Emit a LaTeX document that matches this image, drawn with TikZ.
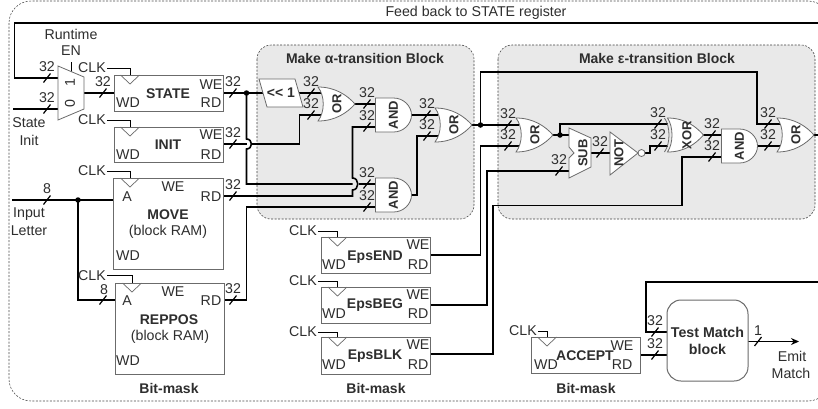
\documentclass[tikz,border=0pt]{standalone}
\usepackage{fontspec}
\setmainfont{Liberation Sans}
\usetikzlibrary{arrows.meta}
\pgfdeclarelayer{bg}
\pgfdeclarelayer{wirelayer}
\pgfsetlayers{bg,wirelayer,main}
\definecolor{ink}{gray}{0.18}
\definecolor{boxline}{gray}{0.42}
\definecolor{blockfill}{gray}{0.915}
\tikzset{
  lab/.style={text=ink,inner sep=0pt,font=\fontsize{14.2}{14.2}\selectfont},
  blab/.style={text=ink,inner sep=0pt,font=\fontsize{14}{14}\selectfont\bfseries},
  smallb/.style={text=ink,inner sep=0pt,font=\fontsize{13}{13}\selectfont\bfseries},
  regbox/.style={draw=boxline,line width=0.9pt,fill=white,inner sep=0pt},
  gateshape/.style={draw=boxline,line width=0.8pt,fill=white},
  wire/.style={draw=black,line width=1.6pt,line cap=butt,line join=miter},
  thinwire/.style={draw=black,line width=0.9pt},
  busmark/.style={draw=black,line width=1.2pt},
  blockarea/.style={draw=black!75,dashed,dash pattern=on 2pt off 1.5pt,line width=0.55pt,fill=blockfill,rounded corners=14pt},
  outerarea/.style={draw=black!70,dash pattern=on 2pt off 1.5pt,line width=0.55pt,rounded corners=22pt},
  dotj/.style={circle,fill=black,inner sep=0pt,minimum size=5.5pt}
}
% name, left x, centre y, up offset, down offset
\newcommand{\orgate}[6][OR]{%
  \begin{scope}[shift={(#3,#4)}]
    \draw[gateshape] (0,-17) .. controls (17,-17) and (29,-9) .. (37,0) .. controls (29,9) and (17,17) .. (0,17) .. controls (7,8) and (7,-8) .. (0,-17) -- cycle;
    \node[smallb,rotate=90] (#2) at (19,0) {#1};
    \coordinate (#2-i1) at (3,-#5); \coordinate (#2-i2) at (3,#6); \coordinate (#2-o) at (36,0);
  \end{scope}}
\newcommand{\xorgate}[5]{%
  \begin{scope}[shift={(#2,#3)}]
    \draw[gateshape] (0,-17) .. controls (17,-17) and (28,-9) .. (36,0) .. controls (28,9) and (17,17) .. (0,17) .. controls (6,8) and (6,-8) .. (0,-17) -- cycle;
    \draw[gateshape,fill=none] (-3,-17) .. controls (3,-8) and (3,8) .. (-3,17);
    \node[smallb,rotate=90] (#1) at (19.5,0) {XOR};
    \coordinate (#1-i1) at (0,-#4); \coordinate (#1-i2) at (0,#5); \coordinate (#1-o) at (35,0);
  \end{scope}}
\newcommand{\andgate}[5]{%
  \begin{scope}[shift={(#2,#3)}]
    \draw[gateshape] (0,-17) -- (18,-17) .. controls (28,-17) and (36,-9) .. (36,0) .. controls (36,9) and (28,17) .. (18,17) -- (0,17) -- cycle;
    \node[smallb,rotate=90] (#1) at (18,0) {AND};
    \coordinate (#1-i1) at (0,-#4); \coordinate (#1-i2) at (0,#5); \coordinate (#1-o) at (35,0);
  \end{scope}}
% name, text x, clk y, notch x, box top
\newcommand{\clocked}[5]{%
  \node[lab] (#1-clk) at (#2,#3) {CLK};
  \draw[thinwire] (#1-clk.east) ++(1,0) -- (#4,#3) -- (#4,#5);
  \draw[draw=boxline,line width=0.7pt] (#4-9.5,#5) -- (#4,#5+9) -- (#4+9.5,#5);
}
\begin{document}
\begin{tikzpicture}[x=1pt,y=-1pt]
\useasboundingbox (0,0) rectangle (818,408);
\begin{pgfonlayer}{bg}
  \fill[white] (0,0) rectangle (818,408);
  \clip (0,0) rectangle (818,408);
  \path[outerarea] (9,1) rectangle (830,401);
  \path[blockarea] (257,45) rectangle (474,219);
  \path[blockarea] (498,45) rectangle (815,219);
\end{pgfonlayer}

% Storage blocks
\node[regbox,minimum width=109pt,minimum height=36pt] (state) at (168.5,93) {};
\node[regbox,minimum width=109pt,minimum height=35pt] (init) at (168.5,144.5) {};
\node[regbox,minimum width=110pt,minimum height=91pt] (move) at (168,223.5) {};
\node[regbox,minimum width=109pt,minimum height=91pt] (reppos) at (170,328.5) {};
\node[regbox,minimum width=109pt,minimum height=36pt] (epsend) at (375.5,255) {};
\node[regbox,minimum width=109pt,minimum height=36pt] (epsbeg) at (375.5,305) {};
\node[regbox,minimum width=109pt,minimum height=37pt] (epsblk) at (375.5,355.5) {};
\node[regbox,minimum width=109pt,minimum height=36pt] (accept) at (585.5,355) {};
\node[draw=boxline,line width=1pt,fill=white,rounded corners=14pt,minimum width=81pt,minimum height=81pt,inner sep=0pt,align=center,text=ink,font=\fontsize{14.2}{17}\selectfont\bfseries] (match) at (707.5,340.5) {Test Match\\block};

\clocked{c1}{92}{68}{130}{75}
\clocked{c2}{92}{120}{130}{127}
\clocked{c3}{92}{171}{130}{178}
\clocked{c4}{92}{275.5}{132}{283}
\clocked{c5}{303}{231}{337.5}{237}
\clocked{c6}{303}{281}{337.5}{287}
\clocked{c7}{303}{332}{337.5}{337}
\clocked{c8}{523}{331}{547}{337}

% Multiplexer
\draw[gateshape] (58,66) -- (84,77) -- (84,109) -- (58,120) -- cycle;
\node[lab,rotate=90] (muxone) at (70,83) {1};
\node[lab,rotate=90] (muxzero) at (70,104) {0};
\coordinate (mux-i1) at (58,78); \coordinate (mux-i2) at (58,109);
\coordinate (mux-o) at (84,93); \coordinate (mux-en) at (71.5,71.5);

% Shift block
\draw[gateshape] (259,79) -- (295,79) -- (303,107) -- (267,107) -- cycle;
\node[blab] (shift) at (281,93) {<{}< 1};
\coordinate (shift-i) at (263,93); \coordinate (shift-o) at (299,93);

% Gates
\orgate{ora}{318}{104}{11}{11}
\andgate{anda}{375.5}{115}{11}{12}
\andgate{andb}{375.5}{195}{11}{12}
\orgate{orb}{435}{125}{10}{11}
\orgate{orc}{516}{135}{10}{11}
\xorgate{xorg}{667.5}{135}{11}{11}
\andgate{andc}{721.5}{146}{11}{11}
\orgate{ord}{777}{135}{11}{11}

% Subtract block
\draw[gateshape] (569,128) -- (591,138) -- (591,167) -- (569,178) -- (569,158) -- (574,153) -- (569,147) -- cycle;
\node[smallb,rotate=90] (sub) at (583,153) {SUB};
\coordinate (sub-i1) at (569,135); \coordinate (sub-i2) at (569,171); \coordinate (sub-o) at (591,153);

% NOT gate
\draw[gateshape] (610,132) -- (638,153) -- (610,175) -- cycle;
\draw[gateshape] (641.5,153) circle[radius=3.5];
\node[smallb,rotate=90] (notg) at (619,153) {NOT};
\coordinate (not-i) at (610,153); \coordinate (not-o) at (645,153);

% Ports and routing points
\coordinate (state-wd) at (114,93);
\coordinate (state-rd) at (223,93);
\coordinate (init-rd) at (223,144);
\coordinate (move-rd) at (223,196);
\coordinate (move-a) at (113,200);
\coordinate (reppos-rd) at (224.5,300);
\coordinate (reppos-a) at (115.5,300);
\coordinate (end-rd) at (430,255);
\coordinate (beg-rd) at (430,305);
\coordinate (blk-rd) at (430,354);
\coordinate (acc-rd) at (640,355);
\coordinate (match-i1) at (667,332);
\coordinate (match-i2) at (667,355);
\coordinate (match-o) at (748,341.5);
\coordinate (emit) at (799,341.5);
\coordinate (fb-r) at (818,23);
\coordinate (fb-l) at (14.5,23);
\coordinate (fb-d) at (14.5,78);
\coordinate (in-state) at (13,109);
\coordinate (in-letter) at (12,200);
\coordinate (en-top) at (71.5,62);
\coordinate (out-r) at (818,135);
\coordinate (res-r) at (818,282);
\coordinate (res-l) at (645.7,282);
\coordinate (j-state) at (246.5,93);
\coordinate (j-letter) at (78,200);
\coordinate (j-orb) at (480.5,125);
\coordinate (j-orc) at (560,135);
\coordinate (hopa-t) at (246.5,139);
\coordinate (hopa-b) at (246.5,149);
\coordinate (hopa-l) at (246.5,144);
\coordinate (hopa-r) at (251.5,144);
\coordinate (hopb-t) at (352.5,178);
\coordinate (hopb-b) at (352.5,190);
\coordinate (hopb-l) at (352.5,184);
\coordinate (hopb-r) at (358.5,184);
\coordinate (st-c) at (246.5,184);
\coordinate (init-up) at (299.5,144);
\coordinate (rep-up) at (246.5,207);
\coordinate (andb-up) at (416.7,136);
\coordinate (alpha-top) at (757,72);
\coordinate (end-up) at (480.6,146);
\coordinate (beg-up) at (486.7,171);
\coordinate (blk-up) at (493,205.5);
\coordinate (blk-rt) at (682,157);
\coordinate (not-up) at (650,146);

\begin{pgfonlayer}{wirelayer}
  % Feedback
  \draw[wire] (fb-r) -- (fb-l) -- (fb-d) -- (mux-i1);
  \draw[wire] (in-state) -- (mux-i2);
  \draw[wire] (mux-o) -- (state-wd);
  \draw[thinwire] (en-top) -- (mux-en);
  % Input letter
  \draw[wire] (in-letter) -- (move-a);
  \draw[wire] (j-letter) |- (reppos-a);
  % STATE out
  \draw[wire] (state-rd) -- (shift-i);
  \draw[wire] (j-state) -- (hopa-t) .. controls +(6.5,0) and +(6.5,0) .. (hopa-b) -- (st-c) -- (hopb-l);
  \draw[wire] (hopb-r) -- (andb-i1);
  % INIT out
  \draw[wire] (init-rd) -- (hopa-l);
  \draw[wire] (hopa-r) -- (init-up) |- (ora-i2);
  % MOVE out
  \draw[wire] (move-rd) -| (hopb-b) .. controls +(7,0) and +(7,0) .. (hopb-t) |- (anda-i2);
  % REPPOS out
  \draw[wire] (reppos-rd) -| (rep-up) |- (andb-i2);
  % Alpha
  \draw[wire] (shift-o) -- (ora-i1);
  \draw[wire] (ora-o) -- (anda-i1);
  \draw[wire] (anda-o) -- (orb-i1);
  \draw[wire] (andb-o) -| (andb-up) -- (orb-i2);
  % Epsilon
  \draw[wire] (orb-o) -- (orc-i1);
  \draw[wire] (j-orb) |- (alpha-top) |- (ord-i1);
  \draw[wire] (end-rd) -| (end-up) -- (orc-i2);
  \draw[wire] (beg-rd) -| (beg-up) -- (sub-i2);
  \draw[wire] (blk-rd) -| (blk-up) -| (blk-rt) -- (andc-i2);
  \draw[wire] (orc-o) -- (sub-i1);
  \draw[wire] (j-orc) |- (xorg-i1);
  \draw[wire] (sub-o) -- (not-i);
  \draw[wire] (not-o) -| (not-up) -- (xorg-i2);
  \draw[wire] (xorg-o) -- (andc-i1);
  \draw[wire] (andc-o) -- (ord-i2);
  \draw[wire] (ord-o) -- (out-r);
  % Match
  \draw[wire] (res-r) -- (res-l) |- (match-i1);
  \draw[wire] (acc-rd) -- (match-i2);
  \draw[line width=1pt,-{Stealth[length=8pt,width=7pt]}] (match-o) -- (emit);
\end{pgfonlayer}

\node[dotj] (d1) at (j-state) {};
\node[dotj] (d2) at (j-letter) {};
\node[dotj] (d3) at (j-orb) {};
\node[dotj] (d4) at (j-orc) {};

% Bus marks with width labels: x, y of wire, label
\foreach \x/\y/\t [count=\i] in {
  47/78/32, 47/109/32, 103/93/32, 47/200/8,
  233/93/32, 233/144/32, 233/196/32, 233/300/32,
  311/93/32, 311/115/32, 367/104/32, 367/127/32, 367/184/32, 367/207/32,
  427/115/32, 427/136/32,
  508/125/32, 508/146/32, 559/171/32, 600/153/32, 658/124/32, 658/146/32,
  712/135/32, 712/157/32, 768/124/32, 768/146/32,
  655/332/32, 655/355/32, 758/341.5/1}{
  \draw[busmark] (\x-3.5,\y+4.5) -- (\x+3.5,\y-4.5);
  \node[lab] (w\i) at (\x,\y-11) {\t};
}
\draw[busmark] (99.5,304.5) -- (106.5,295.5);
\node[lab] (weight-reppos) at (104,290) {8};

% Plain labels
\foreach \x/\y/\t [count=\i] in {
  476/13/{Feed back to STATE register},
  71/34/Runtime, 71/51/EN, 29/123/State, 29/140/Init, 29/214/Input, 29/231/Letter,
  211/85/WE, 211/103/RD, 128/103/WD,
  211/135/WE, 211/155/RD, 128/155/WD,
  173/187/WE, 127/197/A, 211/197/RD, 168/232/{(block RAM)}, 128/256/WD,
  173/292/WE, 127/301/A, 211/301/RD, 170/337/{(block RAM)}, 128/361/WD,
  418/245/WE, 418/265/RD, 334/265/WD,
  418/295/WE, 418/314/RD, 334/314/WD,
  418/345/WE, 418/365/RD, 334/365/WD,
  622/346/WE, 622/365/RD, 546/365/WD,
  792/356/Emit, 791/373/Match}{
  \node[lab] (p\i) at (\x,\y) {\t};
}
% Bold labels
\foreach \x/\y/\t [count=\i] in {
  168/94/STATE, 168/145/INIT, 168/215/MOVE, 169/320/REPPOS, 169/388/Bit-mask,
  375/257/EpsEND, 375/305/EpsBEG, 375/356/EpsBLK, 376/388/Bit-mask,
  585/356/ACCEPT, 586/388/Bit-mask,
  365/58/{Make α-transition Block}, 657/58/{Make ε-transition Block}}{
  \node[blab] (q\i) at (\x,\y) {\t};
}
\end{tikzpicture}
\end{document}
